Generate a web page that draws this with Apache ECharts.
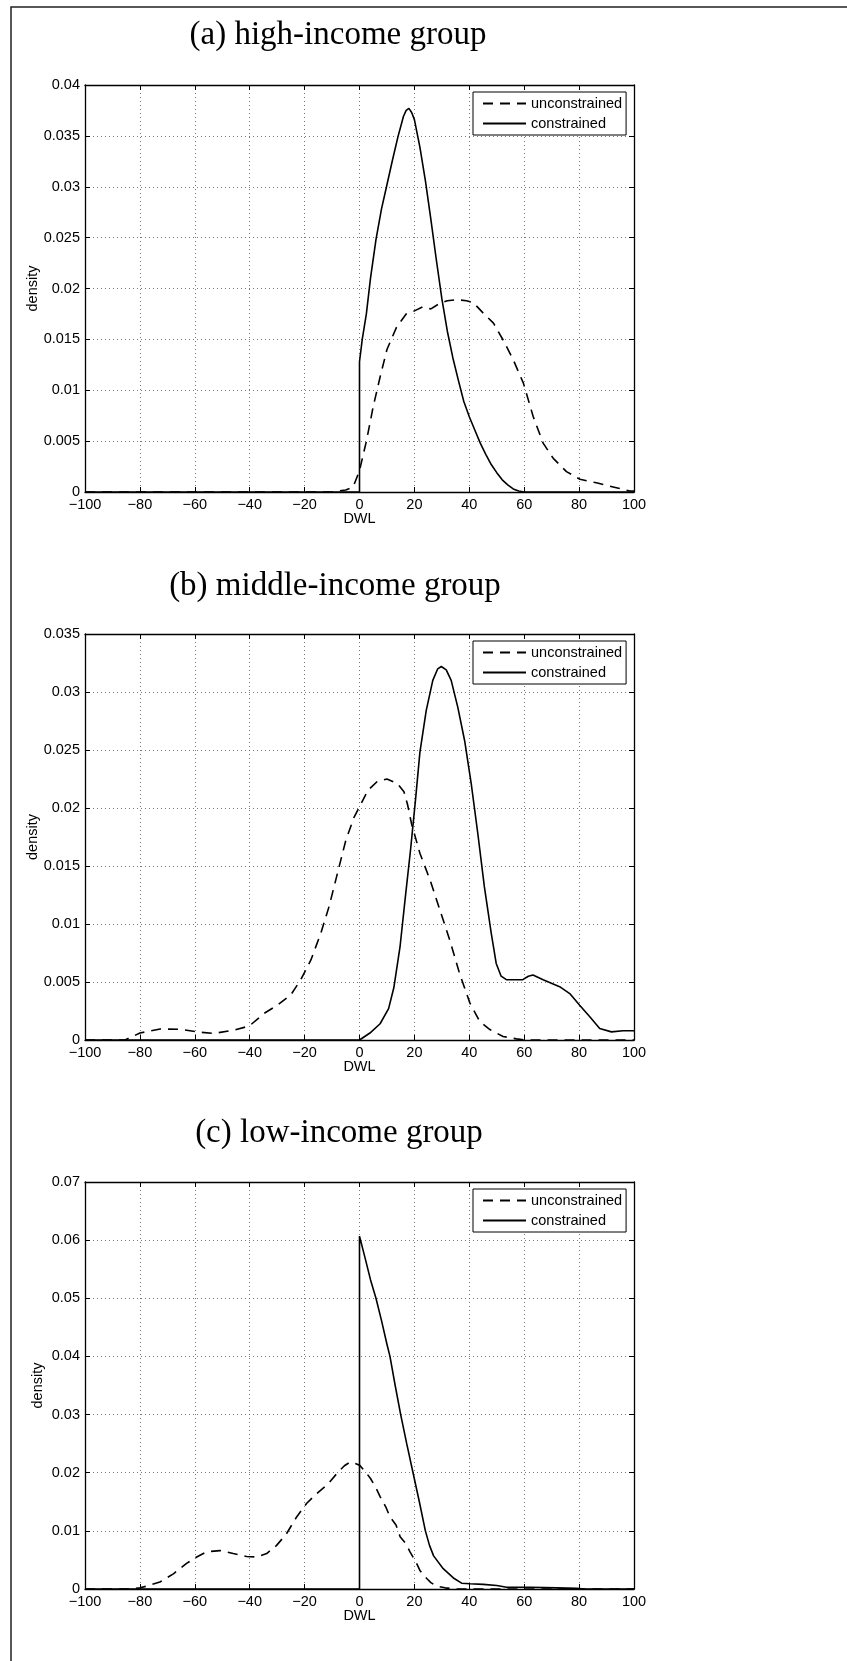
<!DOCTYPE html>
<html>
<head>
<meta charset="utf-8">
<title>DWL density by income group</title>
<script src="https://cdn.jsdelivr.net/npm/echarts@6/dist/echarts.min.js"></script>
<style>
  html, body { margin: 0; padding: 0; background: #fff; }
  #chart { width: 847px; height: 1661px; }
</style>
</head>
<body>
<div id="chart"></div>
<script>
// Panel captions
const panelTitles = ['(a) high-income group', '(b) middle-income group', '(c) low-income group'];
const seriesNames = ['unconstrained', 'constrained'];

// x axis (DWL) range and tick step, shared by all panels
const xRange = [-100, 100];
const xStep = 20;

// y axis (density) maxima and tick steps per panel
const yMaxes = [0.04, 0.035, 0.07];
const ySteps = [0.005, 0.005, 0.01];

// (a) high-income group: [DWL, density]
const highUnconstrained = [
  [-100, 0], [-10, 0], [-8, 0.0001], [-5, 0.0002], [-2.3, 0.0005], [0, 0.0021],
  [2.6, 0.0051], [5, 0.0084], [7.5, 0.0113], [10, 0.0140], [13.5, 0.0162],
  [17, 0.0175], [20, 0.0178], [23, 0.0182], [26, 0.0180], [29, 0.0185],
  [32, 0.0188], [35.5, 0.0189], [39, 0.0188], [41.5, 0.0186], [45, 0.0176],
  [48.8, 0.0166], [52.4, 0.0149], [56, 0.0130], [59.7, 0.0107], [63.3, 0.0074],
  [66.9, 0.0048], [70.6, 0.0033], [75.4, 0.0020], [80.3, 0.00125], [86.3, 0.0009],
  [92.4, 0.0005], [98.5, 0.0001], [100, 0.0001]
];
const highConstrained = [
  [-100, 0], [0, 0], [0, 0.0128], [1, 0.0150], [2.5, 0.0175], [4, 0.0210],
  [6, 0.0248], [8, 0.0278], [10, 0.0302], [12, 0.0326], [14, 0.0349],
  [16, 0.0369], [17, 0.0375], [18, 0.0377], [19, 0.0373], [20, 0.0366],
  [22, 0.0339], [24, 0.0306], [26, 0.0268], [28, 0.0228], [30, 0.0190],
  [32, 0.0158], [34, 0.0132], [36, 0.0110], [38, 0.0089], [40, 0.0074],
  [42, 0.0061], [44, 0.0048], [46, 0.0037], [48, 0.0027], [50, 0.0019],
  [52, 0.0012], [54, 0.0007], [56, 0.0003], [58, 0.0001], [60, 0], [100, 0]
];

// (b) middle-income group
const middleUnconstrained = [
  [-100, 0], [-85.4, 0], [-80, 0.0006], [-72.6, 0.00095], [-65.3, 0.00092],
  [-57.8, 0.00066], [-53, 0.00057], [-45.7, 0.00086], [-40.2, 0.0012],
  [-34.7, 0.0023], [-29.9, 0.0030], [-25, 0.0039], [-21.4, 0.0052],
  [-17.7, 0.0069], [-14.1, 0.0092], [-11.1, 0.0115], [-8, 0.0144], [-5, 0.0172],
  [-2, 0.0192], [0, 0.0201], [3, 0.0215], [6.5, 0.0223], [10, 0.0225],
  [13.8, 0.0221], [16.2, 0.0214], [17.5, 0.0203], [19, 0.0186], [22, 0.0161],
  [25.7, 0.0138], [29.3, 0.0112], [32.9, 0.0086], [36.5, 0.0057], [40.2, 0.0032],
  [43.8, 0.0016], [47.5, 0.0009], [52.3, 0.0003], [57.2, 0.0001], [60, 0], [100, 0]
];
const middleConstrained = [
  [-100, 0], [0, 0], [3.8, 0.0006], [7.5, 0.0014], [10.6, 0.0027], [12.5, 0.0045],
  [14.8, 0.0081], [16.6, 0.0121], [18.6, 0.0164], [20.4, 0.0207], [22, 0.0248],
  [24.3, 0.0284], [26.7, 0.0310], [28.5, 0.0320], [29.8, 0.0322], [31.6, 0.0319],
  [33.4, 0.0310], [35.8, 0.0287], [38.3, 0.0258], [40.7, 0.0221], [43.1, 0.0178],
  [45.5, 0.0132], [48, 0.0092], [49.8, 0.0066], [51.6, 0.0055], [53.5, 0.0052],
  [56, 0.0052], [59.5, 0.0052], [61.5, 0.0055], [63.2, 0.0056], [66.9, 0.0052],
  [72.9, 0.0046], [76.6, 0.0040], [80.2, 0.0030], [83.9, 0.0020], [87.5, 0.0010],
  [91.8, 0.0007], [96, 0.0008], [100, 0.0008]
];

// (c) low-income group
const lowUnconstrained = [
  [-100, 0], [-83.6, 0], [-80, 0.0002], [-77.5, 0.0005], [-72.7, 0.0012],
  [-67.8, 0.0026], [-63, 0.0044], [-59.3, 0.0055], [-55.7, 0.0064],
  [-50.8, 0.0066], [-46, 0.0061], [-41.1, 0.0056], [-37.5, 0.0055],
  [-33.8, 0.0061], [-30.2, 0.0075], [-26.6, 0.0095], [-22.9, 0.0124],
  [-19.3, 0.0147], [-15.6, 0.0164], [-11.4, 0.0181], [-8, 0.0200],
  [-5.5, 0.0212], [-3.5, 0.0218], [-1.5, 0.0216], [0, 0.0213], [2.3, 0.0201],
  [4, 0.0190], [6, 0.0174], [7.5, 0.0159], [9.6, 0.0141], [11.1, 0.0124],
  [13.3, 0.0110], [14.8, 0.0090], [16.9, 0.0078], [18.4, 0.0064], [20.7, 0.0045],
  [22, 0.0032], [24.5, 0.0018], [26, 0.0011], [28.1, 0.0005], [31.2, 0.0002],
  [35, 0], [100, 0]
];
const lowConstrained = [
  [-100, 0], [0, 0], [0, 0.0607], [2, 0.0570], [4, 0.0532], [6, 0.0500],
  [8, 0.0462], [10, 0.0421], [11.1, 0.0400], [13, 0.0350], [15, 0.0300],
  [17.2, 0.0250], [19.5, 0.0200], [21.8, 0.0150], [24, 0.0100], [25.5, 0.0075],
  [27, 0.0057], [30.5, 0.0035], [34.2, 0.0019], [37.2, 0.0010], [40.2, 0.0009],
  [45.1, 0.0008], [50, 0.0006], [53.6, 0.0003], [62.2, 0.0003], [71.9, 0.0002],
  [79.2, 0.0001], [82, 0], [100, 0]
];

const panelData = [
  [highUnconstrained, highConstrained],
  [middleUnconstrained, middleConstrained],
  [lowUnconstrained, lowConstrained]
];

// Layout of the three stacked panels (pixels)
const plotLeft = 85, plotWidth = 549;
const plotTops = [85, 634, 1182];
const plotHeights = [407, 406, 407];
const titleCenters = [[338, 35], [335, 586], [339, 1133]];
const yNameGaps = [45, 45, 40];
const legendTops = [92, 641, 1189];

const sansFont = '"Liberation Sans", Arial, Helvetica, sans-serif';
const axisFontSize = 14.5;
const dashPattern = [10, 7];

const minus = s => String(s).replace('-', '\u2212');
const yFmt = v => v === 0 ? '0' : String(parseFloat(v.toFixed(4)));

const grid = [], xAxis = [], yAxis = [], series = [], legend = [], graphic = [];

const gridLineStyle = { color: '#555', width: 0.8, type: [1, 3] };

panelData.forEach((pair, p) => {
  grid.push({
    left: plotLeft, top: plotTops[p], width: plotWidth, height: plotHeights[p],
    containLabel: false, outerBoundsMode: 'none', show: false
  });

  const xCommon = {
    type: 'value', gridIndex: p, min: xRange[0], max: xRange[1], interval: xStep,
    axisLine: { show: true, onZero: false, lineStyle: { color: '#000', width: 1.3 } },
    axisTick: { show: true, inside: true, length: 5, lineStyle: { color: '#000', width: 1 } }
  };
  // bottom axis with labels, grid lines and title
  xAxis.push(Object.assign({}, xCommon, {
    position: 'bottom',
    name: 'DWL', nameLocation: 'middle', nameGap: 19, nameMoveOverlap: false,
    nameTextStyle: { fontFamily: sansFont, fontSize: axisFontSize, color: '#000' },
    axisLabel: {
      show: true, margin: 5, color: '#000', fontFamily: sansFont, fontSize: axisFontSize,
      showMinLabel: true, showMaxLabel: true, hideOverlap: false,
      formatter: v => minus(v)
    },
    splitLine: { show: true, lineStyle: gridLineStyle }
  }));
  // top box edge
  xAxis.push(Object.assign({}, xCommon, {
    position: 'top', axisLabel: { show: false }, splitLine: { show: false }
  }));

  const yCommon = {
    type: 'value', gridIndex: p, min: 0, max: yMaxes[p], interval: ySteps[p],
    axisLine: { show: true, onZero: false, lineStyle: { color: '#000', width: 1.3 } },
    axisTick: { show: true, inside: true, length: 5, lineStyle: { color: '#000', width: 1 } }
  };
  yAxis.push(Object.assign({}, yCommon, {
    position: 'left',
    name: 'density', nameLocation: 'middle', nameGap: yNameGaps[p], nameMoveOverlap: false,
    nameTextStyle: { fontFamily: sansFont, fontSize: axisFontSize, color: '#000' },
    axisLabel: {
      show: true, margin: 5, color: '#000', fontFamily: sansFont, fontSize: axisFontSize,
      showMinLabel: true, showMaxLabel: true, hideOverlap: false,
      formatter: yFmt
    },
    splitLine: { show: true, lineStyle: gridLineStyle }
  }));
  yAxis.push(Object.assign({}, yCommon, {
    position: 'right', axisLabel: { show: false }, splitLine: { show: false }
  }));

  pair.forEach((data, k) => {
    series.push({
      name: seriesNames[k],
      type: 'line',
      xAxisIndex: 2 * p,
      yAxisIndex: 2 * p,
      data: data,
      showSymbol: false,
      symbol: 'none',
      smooth: false,
      clip: true,
      lineStyle: { color: '#000', width: 1.6, type: k === 0 ? dashPattern : 'solid' },
      itemStyle: { color: '#000', opacity: 0 },
      z: k === 0 ? 3 : 4,
      silent: true
    });
  });

  legend.push({
    show: true,
    data: seriesNames,
    orient: 'vertical',
    left: 473, top: legendTops[p],
    itemWidth: 43, itemHeight: 14, itemGap: 5,
    padding: [4, 4, 4, 9],
    backgroundColor: '#fff',
    borderColor: '#000', borderWidth: 1, borderRadius: 0,
    selectedMode: false,
    itemStyle: { opacity: 0 },
    lineStyle: { opacity: 1 },
    textStyle: { fontFamily: sansFont, fontSize: axisFontSize, color: '#000' }
  });

  graphic.push({
    type: 'text',
    x: titleCenters[p][0], y: titleCenters[p][1],
    style: {
      text: panelTitles[p],
      fill: '#000',
      font: '33px "Liberation Serif", "Times New Roman", serif',
      textAlign: 'center', textVerticalAlign: 'middle', verticalAlign: 'middle'
    }
  });
});

// page frame (top and left edges)
graphic.push({
  type: 'polyline',
  shape: { points: [[11, 1661], [11, 7], [847, 7]] },
  style: { stroke: '#222', lineWidth: 1.5, fill: null }
});

const chart = echarts.init(document.getElementById('chart'), null, { renderer: 'canvas' });
chart.setOption({
  animation: false,
  backgroundColor: '#fff',
  grid, xAxis, yAxis, series, legend, graphic
});
</script>
</body>
</html>
